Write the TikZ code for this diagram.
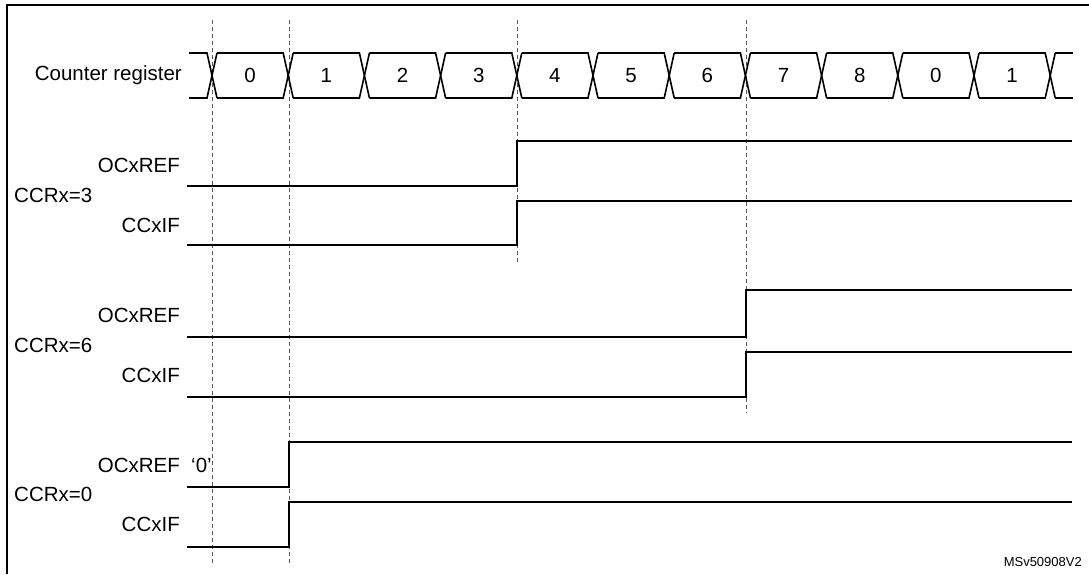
\documentclass[tikz,border=0pt]{standalone}
\usepackage{fontspec}
\setmainfont{Liberation Sans}
\begin{document}
\begin{tikzpicture}[x=1pt,y=-1pt,
  sig/.style={line width=1.6pt},
  grid/.style={gray!70!black,line width=0.6pt,dash pattern=on 4pt off 3pt},
  lbl/.style={font=\fontsize{20.5}{24}\selectfont,inner sep=0pt},
  val/.style={font=\fontsize{20.5}{24}\selectfont,inner sep=0pt}]
\useasboundingbox (0,0) rectangle (1089,574);
\draw[line width=1.2pt] (7,574) -- (7,5) -- (1089,5);
% grid lines
\draw[grid] (212,20) -- (212,566);
\draw[grid] (289,20) -- (289,563);
\draw[grid] (517,20) -- (517,263);
\draw[grid] (746,20) -- (746,413);
% counter bus
\def\yt{53}\def\yb{98}\def\ym{75.5}
\draw[sig] (189,\yt) -- (207,\yt) -- (217,\yb);
\draw[sig] (189,\yb) -- (207,\yb) -- (217,\yt);
\foreach \i [count=\k from 0] in {0,1,2,3,4,5,6,7,8,0,1}{
  \pgfmathsetmacro{\xa}{212+76.2*\k}
  \pgfmathsetmacro{\xb}{212+76.2*(\k+1)}
  \draw[sig] (\xa+5,\yt) -- (\xb-5,\yt) -- (\xb+5,\yb);
  \draw[sig] (\xa+5,\yb) -- (\xb-5,\yb) -- (\xb+5,\yt);
  \node[val] (v\k) at ({(\xa+\xb)/2},\ym) {\i};
}
\draw[sig] (1055,\yt) -- (1073,\yt);
\draw[sig] (1055,\yb) -- (1073,\yb);
\node[lbl,anchor=east] (cr) at (182,\ym) {Counter register};
% signals
\foreach \n/\x/\lo/\hi in {a/517/186/141, b/517/245/201, c/746/337/290, d/746/397/352, e/289/487/442, f/289/547/502}{
  \coordinate (\n0) at (187,\lo);
  \coordinate (\n1) at (\x,\lo);
  \coordinate (\n2) at (\x,\hi);
  \coordinate (\n3) at (1072,\hi);
  \draw[sig] (\n0) -- (\n1) -- (\n2) -- (\n3);
}
\node[lbl,anchor=east] (l1) at (180,165) {OCxREF};
\node[lbl,anchor=west] (c1) at (14,195) {CCRx=3};
\node[lbl,anchor=east] (l2) at (180,225) {CCxIF};
\node[lbl,anchor=east] (l3) at (180,315) {OCxREF};
\node[lbl,anchor=west] (c2) at (14,345) {CCRx=6};
\node[lbl,anchor=east] (l4) at (180,375) {CCxIF};
\node[lbl,anchor=east] (l5) at (180,465) {OCxREF};
\node[lbl,anchor=west] (z) at (191,465) {‘0’};
\node[lbl,anchor=west] (c3) at (14,494) {CCRx=0};
\node[lbl,anchor=east] (l6) at (180,524) {CCxIF};
\node[font=\fontsize{13}{15}\selectfont,inner sep=0pt,anchor=east] (ms) at (1082,562) {MSv50908V2};
\end{tikzpicture}
\end{document}
